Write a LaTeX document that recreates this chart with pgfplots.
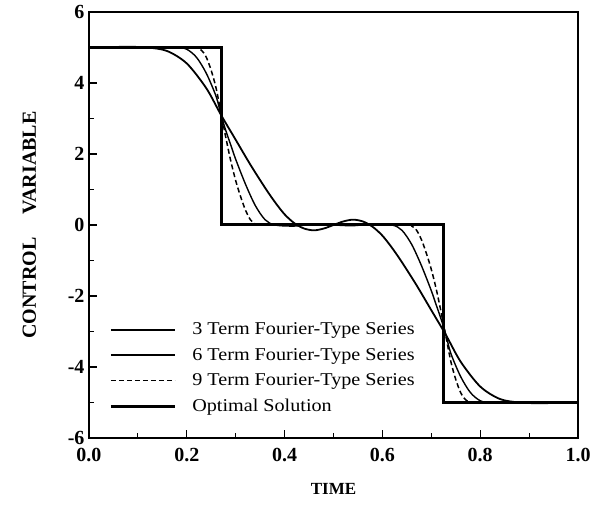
\documentclass[border=0pt]{standalone}
\usepackage{fontspec}
\setmainfont{Liberation Serif}
\newfontfamily\legfont[FakeStretch=1.12]{Liberation Serif}
\usepackage{pgfplots}
\pgfplotsset{compat=1.18}

\begin{document}
\begin{tikzpicture}
\begin{axis}[
  name=a,
  scale only axis,
  width=489pt,height=426pt,
  xmin=0,xmax=1,ymin=-6,ymax=6,
  xtick={0,0.2,0.4,0.6,0.8,1},
  xticklabels={0.0,0.2,0.4,0.6,0.8,1.0},
  ytick={-6,-4,-2,0,2,4,6},
  yticklabels={-6,-4,-2,0,2,4,6},
  minor x tick num=1,minor y tick num=1,
  tick pos=left,tick align=inside,
  major tick length=8pt,minor tick length=5pt,
  every tick/.style={black,line width=1.1pt},
  axis line style={line width=1.8pt},
  tick label style={font=\fontsize{20}{22}\selectfont\bfseries},
  xticklabel style={yshift=-7pt},
  yticklabel style={xshift=-1pt},
  xlabel={TIME},ylabel={CONTROL\hspace{0.9em} VARIABLE},
  xlabel style={font=\fontsize{17}{20}\selectfont\bfseries,
    at={(axis description cs:0.5,-0.12)},anchor=center},
  ylabel style={font=\fontsize{20}{22}\selectfont\bfseries,
    at={(axis description cs:-0.122,0.5)},anchor=center},
  legend cell align=left,
  legend style={draw=none,fill=none,at={(0.035,0.28)},anchor=north west,
    font=\fontsize{18}{20}\selectfont\legfont,row sep=8pt},
  legend image code/.code={\draw[#1] (0pt,0pt) -- (64pt,0pt);\path (78pt,0pt);},
]
\addplot[black,line width=1.8pt,smooth] coordinates {
  (0.00,5.00)(0.04,5.01)(0.08,5.02)(0.12,5.00)(0.16,4.90)(0.20,4.55)
  (0.24,3.85)(0.27,3.10)(0.30,2.40)(0.33,1.70)(0.36,1.05)(0.38,0.65)
  (0.40,0.30)(0.42,0.05)(0.44,-0.10)(0.46,-0.15)(0.48,-0.10)(0.50,0.00)
  (0.52,0.10)(0.54,0.15)(0.56,0.10)(0.58,-0.05)(0.60,-0.30)(0.62,-0.65)
  (0.64,-1.05)(0.67,-1.70)(0.70,-2.40)(0.73,-3.10)(0.76,-3.85)(0.80,-4.55)
  (0.84,-4.90)(0.88,-5.00)(0.92,-5.02)(0.96,-5.01)(1.00,-5.00)
};
\addlegendentry{3 Term Fourier-Type Series}
\addplot[black,line width=1.4pt,smooth] coordinates {
  (0.00,5.00)(0.10,5.00)(0.18,5.00)(0.20,4.95)(0.22,4.72)(0.24,4.27)
  (0.26,3.62)(0.27,3.10)(0.28,2.65)(0.29,2.25)(0.30,1.85)(0.32,1.15)
  (0.34,0.55)(0.36,0.15)(0.38,0.00)(0.42,-0.03)(0.46,0.02)(0.50,0.00)
  (0.54,-0.02)(0.58,0.03)(0.62,0.00)(0.64,-0.15)(0.66,-0.55)(0.68,-1.15)
  (0.70,-1.85)(0.71,-2.25)(0.72,-2.65)(0.73,-3.10)(0.74,-3.62)(0.76,-4.27)
  (0.78,-4.72)(0.80,-4.95)(0.82,-5.00)(0.90,-5.00)(1.00,-5.00)
};
\addlegendentry{6 Term Fourier-Type Series}
\addplot[black,line width=1.5pt,dash pattern=on 5pt off 3pt,smooth] coordinates {
  (0.00,5.00)(0.10,5.00)(0.21,5.00)(0.23,4.92)(0.24,4.72)(0.25,4.35)
  (0.26,3.85)(0.27,3.15)(0.28,2.45)(0.29,1.80)(0.30,1.25)(0.31,0.80)
  (0.32,0.42)(0.33,0.15)(0.34,0.03)(0.35,0.00)(0.50,0.00)
  (0.65,0.00)(0.66,-0.03)(0.67,-0.15)(0.68,-0.42)(0.69,-0.80)(0.70,-1.25)
  (0.71,-1.80)(0.72,-2.45)(0.73,-3.15)(0.74,-3.85)(0.75,-4.35)(0.76,-4.72)
  (0.77,-4.92)(0.79,-5.00)(0.90,-5.00)(1.00,-5.00)
};
\addlegendentry{9 Term Fourier-Type Series}
\addplot[black,line width=3pt,line join=miter] coordinates {
  (0.00,5.00)(0.27,5.00)(0.27,0.00)(0.725,0.00)(0.725,-5.00)(1.00,-5.00)
};
\addlegendentry{Optimal Solution}
\end{axis}
\pgfresetboundingbox
\path ([shift={(-89pt,-67pt)}]a.south west) rectangle ([shift={(15pt,12pt)}]a.north east);
\end{tikzpicture}
\end{document}
